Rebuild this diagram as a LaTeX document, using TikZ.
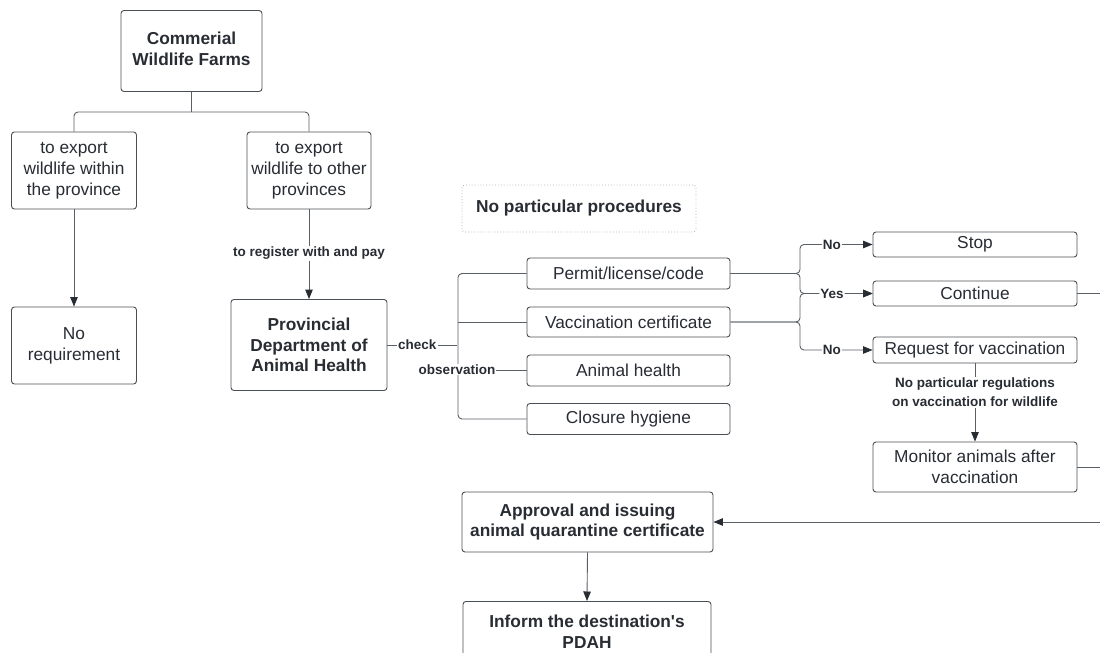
\documentclass[tikz,border=0pt]{standalone}
\usepackage{fontspec}
\setmainfont{Liberation Sans}[Ligatures=TeXOff]
\usetikzlibrary{arrows.meta}
\definecolor{txt}{HTML}{282C33}
\definecolor{edge}{HTML}{4A4E55}
\definecolor{ln}{HTML}{5A5E65}
\definecolor{dotc}{HTML}{B4B4B4}
\tikzset{
  box/.style={draw=edge, line width=0.9pt, rounded corners=3pt, align=center, text=txt,
    font=\fontsize{17.3}{20.8}\selectfont, inner sep=2pt},
  bbox/.style={box, font=\fontsize{17.3}{20.8}\selectfont\bfseries},
  conn/.style={draw=ln, line width=0.9pt},
  arr/.style={conn, -{Triangle[length=9.5pt,width=7.5pt,color=txt]}},
  lbl/.style={fill=white, text=txt, font=\fontsize{13.5}{19}\selectfont\bfseries, inner sep=1pt, align=center},
}
\begin{document}
\begin{tikzpicture}[x=1pt,y=-1pt]
\useasboundingbox (0,0) rectangle (1100,653);
\clip (0,0) rectangle (1100,653);
% nodes
\node[bbox, minimum width=141pt, minimum height=81pt, text depth=5pt] (comm) at (191.5,51) {Commerial\\Wildlife Farms};
\node[box, minimum width=125pt, minimum height=77pt] (within) at (74,170.5) {to export\\wildlife within\\the province};
\node[box, minimum width=124pt, minimum height=77pt] (other) at (309,170.5) {to export\\wildlife to other\\provinces};
\node[box, minimum width=125pt, minimum height=77pt] (noreq) at (74,345.5) {No\\requirement};
\node[bbox, minimum width=156pt, minimum height=91pt] (pdah) at (309,345) {Provincial\\Department of\\Animal Health};
\node[bbox, draw=dotc, dotted, minimum width=234pt, minimum height=47pt] (npp) at (579,208.5) {No particular procedures};
\node[box, minimum width=203pt, minimum height=31pt] (permit) at (628.5,273.5) {Permit/license/code};
\node[box, minimum width=203pt, minimum height=30pt] (vacc) at (628.5,322) {Vaccination certificate};
\node[box, minimum width=203pt, minimum height=31pt] (health) at (628.5,370.5) {Animal health};
\node[box, minimum width=203pt, minimum height=31pt] (closure) at (628.5,419) {Closure hygiene};
\node[box, minimum width=204pt, minimum height=25pt] (stop) at (975,244.5) {Stop};
\node[box, minimum width=204pt, minimum height=25pt] (cont) at (975,293.5) {Continue};
\node[box, minimum width=204pt, minimum height=26pt] (req) at (975,350) {Request for vaccination};
\node[box, minimum width=204pt, minimum height=50pt] (mon) at (975,467) {Monitor animals after\\vaccination};
\node[bbox, minimum width=251pt, minimum height=60pt] (appr) at (587.5,522) {Approval and issuing\\animal quarantine certificate};
\node[bbox, minimum width=248pt, minimum height=60pt, anchor=north] (inform) at (587,601) {Inform the destination's\\PDAH};
% free ends
\coordinate (rc) at (1112,293.5);
\coordinate (rm) at (1112,467);
\coordinate (ra) at (1112,522);
% connectors
\draw[conn] (comm.south) -- (comm.south |- 0,112);
\draw[conn, rounded corners=4pt] (within.north) -- (within.north |- 0,112) -- (other.north |- 0,112) -- (other.north);
\draw[arr] (within.south) -- (noreq.north);
\draw[arr] (other.south) -- node[lbl, pos=0.49] {to register with and pay} (pdah.north);
\draw[conn] (pdah.east) -- node[lbl, pos=0.43] {check} (457,345);
\draw[conn, rounded corners=4pt] (permit.west) -- (458,273.5) -- (458,419) -- (closure.west);
\draw[conn] (vacc.west) -- (458,322);
\draw[conn] (health.west) -- (458,370.5);
\node[lbl] (obs) at (457,369.5) {observation};
\draw[arr, rounded corners=4pt] (permit.east) -- (800,273.5) |- node[lbl, pos=0.72] {No} (stop.west);
\draw[arr, rounded corners=4pt] (vacc.east) -- (800,322) |- (cont.west);
\draw[arr, rounded corners=4pt] (permit.east) -- (800,273.5) |- node[lbl, pos=0.72] {Yes} (cont.west);
\draw[arr, rounded corners=4pt] (vacc.east) -- (800,322) |- node[lbl, pos=0.72] {No} (req.west);
\draw[arr] (req.south) -- node[lbl, pos=0.37] {No particular regulations\\on vaccination for wildlife} (mon.north);
\draw[conn] (cont.east) -- (rc);
\draw[conn] (mon.east) -- (rm);
\draw[arr] (ra) -- (appr.east);
\draw[arr] (appr.south) -- (inform.north);
\end{tikzpicture}
\end{document}
